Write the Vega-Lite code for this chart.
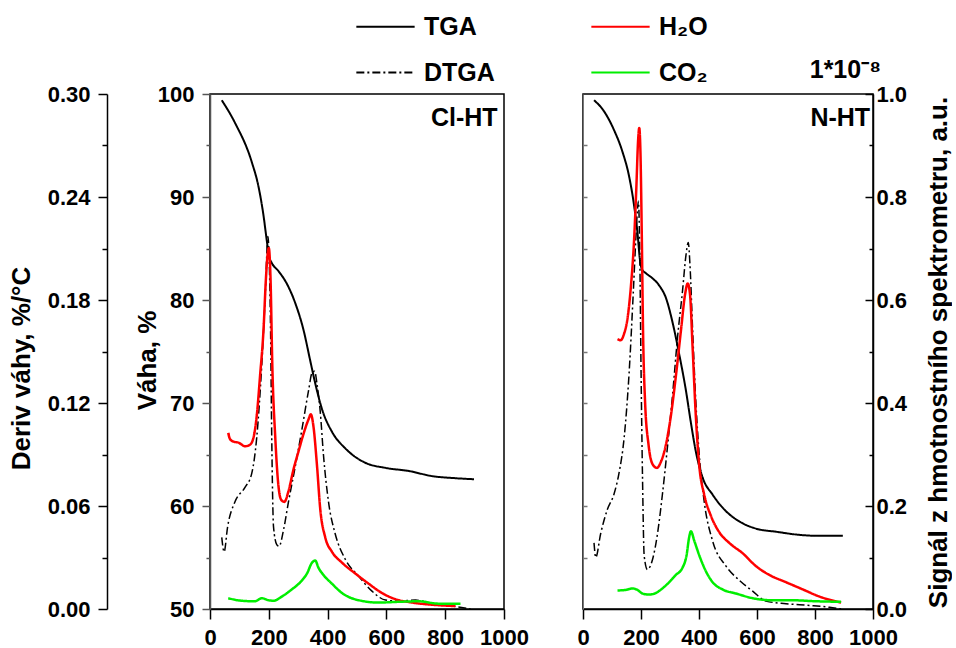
{
"$schema": "https://vega.github.io/schema/vega-lite/v6.json",
"background": "white",
"padding": {"left": 7, "top": -4, "right": 0, "bottom": 0},
"config": {
  "font": "Liberation Sans",
  "view": {"stroke": "black", "strokeWidth": 1.5},
  "axis": {"grid": false, "labelFont": "Liberation Sans", "labelFontWeight": "bold", "labelFontSize": 22, "labelColor": "black", "titleFont": "Liberation Sans", "titleFontWeight": "bold", "titleFontSize": 26, "titleColor": "black", "domainColor": "black", "domainWidth": 1.5, "tickColor": "black", "tickWidth": 1.5},
  "legend": {"orient": "none", "legendX": 145, "legendY": -98, "columns": 2, "columnPadding": 92, "rowPadding": 2, "symbolType": "stroke", "symbolSize": 3400, "symbolStrokeWidth": 2, "labelFont": "Liberation Sans", "labelFontWeight": "bold", "labelFontSize": 25, "labelColor": "black", "labelOffset": 8, "title": null}
},
"datasets": {"d": [
{"s":"Cl-HT","k":"TGA","T":40,"v":99.4},{"s":"Cl-HT","k":"TGA","T":85,"v":97.2},{"s":"Cl-HT","k":"TGA","T":142,"v":93.4},{"s":"Cl-HT","k":"TGA","T":165,"v":91.0},{"s":"Cl-HT","k":"TGA","T":182,"v":88.2},{"s":"Cl-HT","k":"TGA","T":193,"v":85.8},{"s":"Cl-HT","k":"TGA","T":201,"v":84.2},{"s":"Cl-HT","k":"TGA","T":210,"v":83.6},{"s":"Cl-HT","k":"TGA","T":233,"v":82.8},{"s":"Cl-HT","k":"TGA","T":261,"v":81.6},{"s":"Cl-HT","k":"TGA","T":290,"v":79.7},{"s":"Cl-HT","k":"TGA","T":318,"v":77.1},{"s":"Cl-HT","k":"TGA","T":341,"v":74.1},{"s":"Cl-HT","k":"TGA","T":358,"v":71.9},{"s":"Cl-HT","k":"TGA","T":381,"v":69.4},{"s":"Cl-HT","k":"TGA","T":415,"v":67.2},{"s":"Cl-HT","k":"TGA","T":460,"v":65.6},{"s":"Cl-HT","k":"TGA","T":528,"v":64.2},{"s":"Cl-HT","k":"TGA","T":597,"v":63.7},{"s":"Cl-HT","k":"TGA","T":676,"v":63.4},{"s":"Cl-HT","k":"TGA","T":756,"v":62.9},{"s":"Cl-HT","k":"TGA","T":835,"v":62.7},{"s":"Cl-HT","k":"TGA","T":898,"v":62.6},
{"s":"Cl-HT","k":"DTGA","T":40,"v":0.0417},{"s":"Cl-HT","k":"DTGA","T":48,"v":0.0333},{"s":"Cl-HT","k":"DTGA","T":60,"v":0.048},{"s":"Cl-HT","k":"DTGA","T":85,"v":0.0625},{"s":"Cl-HT","k":"DTGA","T":119,"v":0.0708},{"s":"Cl-HT","k":"DTGA","T":142,"v":0.079},{"s":"Cl-HT","k":"DTGA","T":159,"v":0.1},{"s":"Cl-HT","k":"DTGA","T":176,"v":0.142},{"s":"Cl-HT","k":"DTGA","T":188,"v":0.183},{"s":"Cl-HT","k":"DTGA","T":197,"v":0.217},{"s":"Cl-HT","k":"DTGA","T":201,"v":0.205},{"s":"Cl-HT","k":"DTGA","T":206,"v":0.1625},{"s":"Cl-HT","k":"DTGA","T":210,"v":0.1},{"s":"Cl-HT","k":"DTGA","T":216,"v":0.048},{"s":"Cl-HT","k":"DTGA","T":227,"v":0.0375},{"s":"Cl-HT","k":"DTGA","T":235,"v":0.0365},{"s":"Cl-HT","k":"DTGA","T":250,"v":0.046},{"s":"Cl-HT","k":"DTGA","T":267,"v":0.0625},{"s":"Cl-HT","k":"DTGA","T":290,"v":0.083},{"s":"Cl-HT","k":"DTGA","T":312,"v":0.104},{"s":"Cl-HT","k":"DTGA","T":335,"v":0.127},{"s":"Cl-HT","k":"DTGA","T":347,"v":0.1375},{"s":"Cl-HT","k":"DTGA","T":356,"v":0.1385},{"s":"Cl-HT","k":"DTGA","T":364,"v":0.131},{"s":"Cl-HT","k":"DTGA","T":375,"v":0.115},{"s":"Cl-HT","k":"DTGA","T":386,"v":0.0896},{"s":"Cl-HT","k":"DTGA","T":403,"v":0.0625},{"s":"Cl-HT","k":"DTGA","T":426,"v":0.0437},{"s":"Cl-HT","k":"DTGA","T":460,"v":0.029},{"s":"Cl-HT","k":"DTGA","T":506,"v":0.019},{"s":"Cl-HT","k":"DTGA","T":551,"v":0.0104},{"s":"Cl-HT","k":"DTGA","T":597,"v":0.0052},{"s":"Cl-HT","k":"DTGA","T":642,"v":0.0046},{"s":"Cl-HT","k":"DTGA","T":699,"v":0.0052},{"s":"Cl-HT","k":"DTGA","T":756,"v":0.0031},{"s":"Cl-HT","k":"DTGA","T":824,"v":0.0017},{"s":"Cl-HT","k":"DTGA","T":886,"v":0},
{"s":"Cl-HT","k":"H₂O","T":62,"v":0.342},{"s":"Cl-HT","k":"H₂O","T":68,"v":0.330},{"s":"Cl-HT","k":"H₂O","T":80,"v":0.325},{"s":"Cl-HT","k":"H₂O","T":97,"v":0.323},{"s":"Cl-HT","k":"H₂O","T":119,"v":0.316},{"s":"Cl-HT","k":"H₂O","T":136,"v":0.319},{"s":"Cl-HT","k":"H₂O","T":148,"v":0.333},{"s":"Cl-HT","k":"H₂O","T":159,"v":0.375},{"s":"Cl-HT","k":"H₂O","T":170,"v":0.451},{"s":"Cl-HT","k":"H₂O","T":182,"v":0.542},{"s":"Cl-HT","k":"H₂O","T":190,"v":0.639},{"s":"Cl-HT","k":"H₂O","T":197,"v":0.694},{"s":"Cl-HT","k":"H₂O","T":200,"v":0.701},{"s":"Cl-HT","k":"H₂O","T":206,"v":0.639},{"s":"Cl-HT","k":"H₂O","T":212,"v":0.472},{"s":"Cl-HT","k":"H₂O","T":222,"v":0.333},{"s":"Cl-HT","k":"H₂O","T":231,"v":0.25},{"s":"Cl-HT","k":"H₂O","T":242,"v":0.212},{"s":"Cl-HT","k":"H₂O","T":253,"v":0.208},{"s":"Cl-HT","k":"H₂O","T":267,"v":0.229},{"s":"Cl-HT","k":"H₂O","T":284,"v":0.271},{"s":"Cl-HT","k":"H₂O","T":301,"v":0.306},{"s":"Cl-HT","k":"H₂O","T":318,"v":0.340},{"s":"Cl-HT","k":"H₂O","T":335,"v":0.368},{"s":"Cl-HT","k":"H₂O","T":343,"v":0.378},{"s":"Cl-HT","k":"H₂O","T":352,"v":0.354},{"s":"Cl-HT","k":"H₂O","T":364,"v":0.278},{"s":"Cl-HT","k":"H₂O","T":375,"v":0.194},{"s":"Cl-HT","k":"H₂O","T":392,"v":0.139},{"s":"Cl-HT","k":"H₂O","T":415,"v":0.111},{"s":"Cl-HT","k":"H₂O","T":449,"v":0.090},{"s":"Cl-HT","k":"H₂O","T":494,"v":0.069},{"s":"Cl-HT","k":"H₂O","T":540,"v":0.049},{"s":"Cl-HT","k":"H₂O","T":585,"v":0.031},{"s":"Cl-HT","k":"H₂O","T":631,"v":0.019},{"s":"Cl-HT","k":"H₂O","T":688,"v":0.0125},{"s":"Cl-HT","k":"H₂O","T":756,"v":0.0083},{"s":"Cl-HT","k":"H₂O","T":835,"v":0.0056},
{"s":"Cl-HT","k":"CO₂","T":62,"v":0.021},{"s":"Cl-HT","k":"CO₂","T":108,"v":0.016},{"s":"Cl-HT","k":"CO₂","T":153,"v":0.015},{"s":"Cl-HT","k":"CO₂","T":176,"v":0.021},{"s":"Cl-HT","k":"CO₂","T":199,"v":0.017},{"s":"Cl-HT","k":"CO₂","T":216,"v":0.016},{"s":"Cl-HT","k":"CO₂","T":244,"v":0.024},{"s":"Cl-HT","k":"CO₂","T":278,"v":0.038},{"s":"Cl-HT","k":"CO₂","T":307,"v":0.052},{"s":"Cl-HT","k":"CO₂","T":330,"v":0.069},{"s":"Cl-HT","k":"CO₂","T":347,"v":0.090},{"s":"Cl-HT","k":"CO₂","T":358,"v":0.094},{"s":"Cl-HT","k":"CO₂","T":369,"v":0.080},{"s":"Cl-HT","k":"CO₂","T":386,"v":0.066},{"s":"Cl-HT","k":"CO₂","T":415,"v":0.049},{"s":"Cl-HT","k":"CO₂","T":449,"v":0.031},{"s":"Cl-HT","k":"CO₂","T":506,"v":0.017},{"s":"Cl-HT","k":"CO₂","T":574,"v":0.0125},{"s":"Cl-HT","k":"CO₂","T":642,"v":0.014},{"s":"Cl-HT","k":"CO₂","T":710,"v":0.015},{"s":"Cl-HT","k":"CO₂","T":778,"v":0.0104},{"s":"Cl-HT","k":"CO₂","T":852,"v":0.0104},
{"s":"N-HT","k":"TGA","T":38,"v":99.4},{"s":"N-HT","k":"TGA","T":73,"v":98.3},{"s":"N-HT","k":"TGA","T":107,"v":96.5},{"s":"N-HT","k":"TGA","T":136,"v":94.4},{"s":"N-HT","k":"TGA","T":159,"v":92.0},{"s":"N-HT","k":"TGA","T":176,"v":89.2},{"s":"N-HT","k":"TGA","T":188,"v":86.5},{"s":"N-HT","k":"TGA","T":196,"v":84.0},{"s":"N-HT","k":"TGA","T":203,"v":83.0},{"s":"N-HT","k":"TGA","T":217,"v":82.6},{"s":"N-HT","k":"TGA","T":240,"v":82.1},{"s":"N-HT","k":"TGA","T":263,"v":81.4},{"s":"N-HT","k":"TGA","T":286,"v":80.2},{"s":"N-HT","k":"TGA","T":309,"v":77.8},{"s":"N-HT","k":"TGA","T":332,"v":74.7},{"s":"N-HT","k":"TGA","T":355,"v":71.2},{"s":"N-HT","k":"TGA","T":372,"v":68.1},{"s":"N-HT","k":"TGA","T":389,"v":65.3},{"s":"N-HT","k":"TGA","T":412,"v":62.8},{"s":"N-HT","k":"TGA","T":447,"v":61.1},{"s":"N-HT","k":"TGA","T":493,"v":59.5},{"s":"N-HT","k":"TGA","T":539,"v":58.5},{"s":"N-HT","k":"TGA","T":597,"v":57.8},{"s":"N-HT","k":"TGA","T":666,"v":57.5},{"s":"N-HT","k":"TGA","T":746,"v":57.2},{"s":"N-HT","k":"TGA","T":816,"v":57.1},{"s":"N-HT","k":"TGA","T":896,"v":57.1},
{"s":"N-HT","k":"DTGA","T":38,"v":0.0385},{"s":"N-HT","k":"DTGA","T":44,"v":0.030},{"s":"N-HT","k":"DTGA","T":61,"v":0.044},{"s":"N-HT","k":"DTGA","T":84,"v":0.058},{"s":"N-HT","k":"DTGA","T":107,"v":0.067},{"s":"N-HT","k":"DTGA","T":124,"v":0.079},{"s":"N-HT","k":"DTGA","T":142,"v":0.1},{"s":"N-HT","k":"DTGA","T":159,"v":0.1375},{"s":"N-HT","k":"DTGA","T":173,"v":0.183},{"s":"N-HT","k":"DTGA","T":182,"v":0.215},{"s":"N-HT","k":"DTGA","T":188,"v":0.233},{"s":"N-HT","k":"DTGA","T":191,"v":0.2375},{"s":"N-HT","k":"DTGA","T":196,"v":0.204},{"s":"N-HT","k":"DTGA","T":200,"v":0.1417},{"s":"N-HT","k":"DTGA","T":205,"v":0.079},{"s":"N-HT","k":"DTGA","T":211,"v":0.031},{"s":"N-HT","k":"DTGA","T":222,"v":0.023},{"s":"N-HT","k":"DTGA","T":240,"v":0.029},{"s":"N-HT","k":"DTGA","T":257,"v":0.044},{"s":"N-HT","k":"DTGA","T":274,"v":0.067},{"s":"N-HT","k":"DTGA","T":291,"v":0.094},{"s":"N-HT","k":"DTGA","T":309,"v":0.125},{"s":"N-HT","k":"DTGA","T":326,"v":0.1583},{"s":"N-HT","k":"DTGA","T":343,"v":0.185},{"s":"N-HT","k":"DTGA","T":355,"v":0.206},{"s":"N-HT","k":"DTGA","T":363,"v":0.2135},{"s":"N-HT","k":"DTGA","T":369,"v":0.2},{"s":"N-HT","k":"DTGA","T":378,"v":0.1625},{"s":"N-HT","k":"DTGA","T":389,"v":0.121},{"s":"N-HT","k":"DTGA","T":401,"v":0.0896},{"s":"N-HT","k":"DTGA","T":418,"v":0.0625},{"s":"N-HT","k":"DTGA","T":447,"v":0.0396},{"s":"N-HT","k":"DTGA","T":493,"v":0.025},{"s":"N-HT","k":"DTGA","T":539,"v":0.0167},{"s":"N-HT","k":"DTGA","T":585,"v":0.0104},{"s":"N-HT","k":"DTGA","T":631,"v":0.0046},{"s":"N-HT","k":"DTGA","T":700,"v":0.0031},{"s":"N-HT","k":"DTGA","T":781,"v":0.0021},{"s":"N-HT","k":"DTGA","T":850,"v":0.001},{"s":"N-HT","k":"DTGA","T":890,"v":0},
{"s":"N-HT","k":"H₂O","T":119,"v":0.524},{"s":"N-HT","k":"H₂O","T":130,"v":0.522},{"s":"N-HT","k":"H₂O","T":142,"v":0.535},{"s":"N-HT","k":"H₂O","T":153,"v":0.5625},{"s":"N-HT","k":"H₂O","T":165,"v":0.625},{"s":"N-HT","k":"H₂O","T":176,"v":0.715},{"s":"N-HT","k":"H₂O","T":184,"v":0.819},{"s":"N-HT","k":"H₂O","T":190,"v":0.910},{"s":"N-HT","k":"H₂O","T":194,"v":0.934},{"s":"N-HT","k":"H₂O","T":198,"v":0.889},{"s":"N-HT","k":"H₂O","T":203,"v":0.715},{"s":"N-HT","k":"H₂O","T":207,"v":0.542},{"s":"N-HT","k":"H₂O","T":214,"v":0.403},{"s":"N-HT","k":"H₂O","T":226,"v":0.319},{"s":"N-HT","k":"H₂O","T":240,"v":0.281},{"s":"N-HT","k":"H₂O","T":255,"v":0.274},{"s":"N-HT","k":"H₂O","T":268,"v":0.285},{"s":"N-HT","k":"H₂O","T":286,"v":0.319},{"s":"N-HT","k":"H₂O","T":303,"v":0.375},{"s":"N-HT","k":"H₂O","T":320,"v":0.451},{"s":"N-HT","k":"H₂O","T":338,"v":0.542},{"s":"N-HT","k":"H₂O","T":352,"v":0.611},{"s":"N-HT","k":"H₂O","T":361,"v":0.632},{"s":"N-HT","k":"H₂O","T":369,"v":0.611},{"s":"N-HT","k":"H₂O","T":378,"v":0.507},{"s":"N-HT","k":"H₂O","T":389,"v":0.375},{"s":"N-HT","k":"H₂O","T":401,"v":0.278},{"s":"N-HT","k":"H₂O","T":418,"v":0.222},{"s":"N-HT","k":"H₂O","T":441,"v":0.181},{"s":"N-HT","k":"H₂O","T":470,"v":0.149},{"s":"N-HT","k":"H₂O","T":505,"v":0.128},{"s":"N-HT","k":"H₂O","T":551,"v":0.108},{"s":"N-HT","k":"H₂O","T":597,"v":0.083},{"s":"N-HT","k":"H₂O","T":643,"v":0.066},{"s":"N-HT","k":"H₂O","T":700,"v":0.052},{"s":"N-HT","k":"H₂O","T":758,"v":0.038},{"s":"N-HT","k":"H₂O","T":816,"v":0.024},{"s":"N-HT","k":"H₂O","T":890,"v":0.0125},
{"s":"N-HT","k":"CO₂","T":119,"v":0.036},{"s":"N-HT","k":"CO₂","T":147,"v":0.037},{"s":"N-HT","k":"CO₂","T":170,"v":0.040},{"s":"N-HT","k":"CO₂","T":188,"v":0.037},{"s":"N-HT","k":"CO₂","T":205,"v":0.030},{"s":"N-HT","k":"CO₂","T":228,"v":0.028},{"s":"N-HT","k":"CO₂","T":251,"v":0.031},{"s":"N-HT","k":"CO₂","T":274,"v":0.040},{"s":"N-HT","k":"CO₂","T":297,"v":0.052},{"s":"N-HT","k":"CO₂","T":320,"v":0.066},{"s":"N-HT","k":"CO₂","T":343,"v":0.080},{"s":"N-HT","k":"CO₂","T":357,"v":0.104},{"s":"N-HT","k":"CO₂","T":366,"v":0.139},{"s":"N-HT","k":"CO₂","T":372,"v":0.151},{"s":"N-HT","k":"CO₂","T":384,"v":0.132},{"s":"N-HT","k":"CO₂","T":401,"v":0.104},{"s":"N-HT","k":"CO₂","T":424,"v":0.073},{"s":"N-HT","k":"CO₂","T":447,"v":0.052},{"s":"N-HT","k":"CO₂","T":481,"v":0.038},{"s":"N-HT","k":"CO₂","T":528,"v":0.030},{"s":"N-HT","k":"CO₂","T":585,"v":0.021},{"s":"N-HT","k":"CO₂","T":654,"v":0.017},{"s":"N-HT","k":"CO₂","T":723,"v":0.017},{"s":"N-HT","k":"CO₂","T":804,"v":0.015},{"s":"N-HT","k":"CO₂","T":890,"v":0.014}
]},
"spacing": 79,
"bounds": "flush",
"resolve": {"scale": {"color": "shared", "strokeDash": "shared"}},
"hconcat": [
{
  "width": 294, "height": 515,
  "resolve": {"scale": {"y": "independent"}},
  "layer": [
    {
      "data": {"name": "d"},
      "transform": [{"filter": "datum.s === 'Cl-HT' && datum.k === 'TGA'"}],
      "mark": {"type": "line", "strokeWidth": 2, "interpolate": "monotone"},
      "encoding": {
        "x": {"field": "T", "type": "quantitative", "scale": {"domain": [0, 1000], "nice": false},
              "axis": {"title": null, "values": [0,100,200,300,400,500,600,700,800,900,1000], "format": "d", "labelExpr": "datum.value % 200 === 0 ? datum.label : ''", "tickSize": {"condition": {"test": "datum.value % 200 === 0", "value": 10}, "value": 5}, "labelPadding": 8, "labelFlush": false}},
        "y": {"field": "v", "type": "quantitative", "scale": {"domain": [50, 100], "nice": false, "zero": false},
              "axis": {"orient": "left", "title": "Váha, %", "values": [50,55,60,65,70,75,80,85,90,95,100], "labelExpr": "datum.value % 10 === 0 ? datum.label : ''", "tickSize": {"condition": {"test": "datum.value % 10 === 0", "value": 8}, "value": 4}, "labelPadding": 8, "titleAngle": -90, "titleX": -50, "titleY": 266, "titleAlign": "center", "titleBaseline": "bottom", "domainColor": "#555555", "tickColor": "#555555"}},
        "color": {"field": "k", "type": "nominal", "scale": {"domain": ["TGA", "DTGA", "H₂O", "CO₂"], "range": ["black", "black", "#ff0000", "#00ee00"]}},
        "strokeDash": {"field": "k", "type": "nominal", "scale": {"domain": ["TGA", "DTGA", "H₂O", "CO₂"], "range": [[1, 0], [8, 3, 2, 3], [1, 0], [1, 0]]}}
      }
    },
    {
      "data": {"name": "d"},
      "transform": [{"filter": "datum.s === 'Cl-HT' && datum.k === 'DTGA'"}],
      "mark": {"type": "line", "strokeWidth": 1.5, "interpolate": "monotone"},
      "encoding": {
        "x": {"field": "T", "type": "quantitative"},
        "y": {"field": "v", "type": "quantitative", "scale": {"domain": [0, 0.3], "nice": false},
              "axis": {"orient": "left", "offset": 103, "title": "Deriv váhy, %/°C", "values": [0,0.03,0.06,0.09,0.12,0.15,0.18,0.21,0.24,0.27,0.3], "labelExpr": "round(datum.value*100) % 6 === 0 ? format(datum.value, '.2f') : ''", "tickSize": {"condition": {"test": "round(datum.value*100) % 6 === 0", "value": 9}, "value": 5}, "labelPadding": 8, "titleAngle": -90, "titleX": -73, "titleY": 274, "titleAlign": "center", "titleBaseline": "bottom"}},
        "color": {"field": "k", "type": "nominal"},
        "strokeDash": {"field": "k", "type": "nominal"}
      }
    },
    {
      "data": {"name": "d"},
      "transform": [{"filter": "datum.s === 'Cl-HT' && (datum.k === 'H₂O' || datum.k === 'CO₂')"}],
      "mark": {"type": "line", "strokeWidth": 2.5, "interpolate": "monotone"},
      "encoding": {
        "x": {"field": "T", "type": "quantitative"},
        "y": {"field": "v", "type": "quantitative", "scale": {"domain": [0, 1], "nice": false}, "axis": null},
        "color": {"field": "k", "type": "nominal"},
        "strokeDash": {"field": "k", "type": "nominal"}
      }
    },
    {
      "data": {"values": [{"lab": "Cl-HT"}]},
      "mark": {"type": "text", "align": "right", "baseline": "middle", "fontSize": 25, "fontWeight": "bold", "font": "Liberation Sans", "color": "black"},
      "encoding": {
        "text": {"field": "lab"},
        "x": {"datum": 978, "type": "quantitative"},
        "y": {"datum": 97.7, "type": "quantitative", "scale": {"domain": [50, 100], "nice": false, "zero": false}, "axis": null}
      }
    }
  ]
},
{
  "width": 290, "height": 515,
  "title": {"text": "1*10⁻⁸", "anchor": "end", "frame": "group", "fontSize": 25, "fontWeight": "bold", "font": "Liberation Sans", "color": "black", "offset": 0, "dx": 8},
  "resolve": {"scale": {"y": "independent"}},
  "layer": [
    {
      "data": {"name": "d"},
      "transform": [{"filter": "datum.s === 'N-HT' && datum.k === 'TGA'"}],
      "mark": {"type": "line", "strokeWidth": 2, "interpolate": "monotone"},
      "encoding": {
        "x": {"field": "T", "type": "quantitative", "scale": {"domain": [0, 1000], "nice": false},
              "axis": {"title": null, "values": [0,100,200,300,400,500,600,700,800,900,1000], "format": "d", "labelExpr": "datum.value % 200 === 0 ? datum.label : ''", "tickSize": {"condition": {"test": "datum.value % 200 === 0", "value": 10}, "value": 5}, "labelPadding": 8, "labelFlush": false}},
        "y": {"field": "v", "type": "quantitative", "scale": {"domain": [50, 100], "nice": false, "zero": false},
              "axis": {"orient": "left", "title": null, "labels": false, "values": [55,60,65,70,75,80,85,90,95], "tickSize": -4, "domainColor": "#777777", "tickColor": "#777777", "domainWidth": 1}},
        "color": {"field": "k", "type": "nominal"},
        "strokeDash": {"field": "k", "type": "nominal"}
      }
    },
    {
      "data": {"name": "d"},
      "transform": [{"filter": "datum.s === 'N-HT' && datum.k === 'DTGA'"}],
      "mark": {"type": "line", "strokeWidth": 1.5, "interpolate": "monotone"},
      "encoding": {
        "x": {"field": "T", "type": "quantitative"},
        "y": {"field": "v", "type": "quantitative", "scale": {"domain": [0, 0.3], "nice": false}, "axis": null},
        "color": {"field": "k", "type": "nominal"},
        "strokeDash": {"field": "k", "type": "nominal"}
      }
    },
    {
      "data": {"name": "d"},
      "transform": [{"filter": "datum.s === 'N-HT' && (datum.k === 'H₂O' || datum.k === 'CO₂')"}],
      "mark": {"type": "line", "strokeWidth": 2.5, "interpolate": "monotone"},
      "encoding": {
        "x": {"field": "T", "type": "quantitative"},
        "y": {"field": "v", "type": "quantitative", "scale": {"domain": [0, 1], "nice": false},
              "axis": {"orient": "right", "title": "Signál z hmotnostního spektrometru, a.u.", "values": [0,0.1,0.2,0.3,0.4,0.5,0.6,0.7,0.8,0.9,1], "labelExpr": "round(datum.value*10) % 2 === 0 ? format(datum.value, '.1f') : ''", "tickSize": {"condition": {"test": "round(datum.value*10) % 2 === 0", "value": -8}, "value": -4}, "labelPadding": 11, "titleAngle": -90, "titleX": 78, "titleY": 258, "titleAlign": "center", "titleBaseline": "bottom"}},
        "color": {"field": "k", "type": "nominal"},
        "strokeDash": {"field": "k", "type": "nominal"}
      }
    },
    {
      "data": {"values": [{"lab": "N-HT"}]},
      "mark": {"type": "text", "align": "right", "baseline": "middle", "fontSize": 25, "fontWeight": "bold", "font": "Liberation Sans", "color": "black"},
      "encoding": {
        "text": {"field": "lab"},
        "x": {"datum": 990, "type": "quantitative"},
        "y": {"datum": 97.7, "type": "quantitative", "scale": {"domain": [50, 100], "nice": false, "zero": false}, "axis": null}
      }
    }
  ]
}
]
}
